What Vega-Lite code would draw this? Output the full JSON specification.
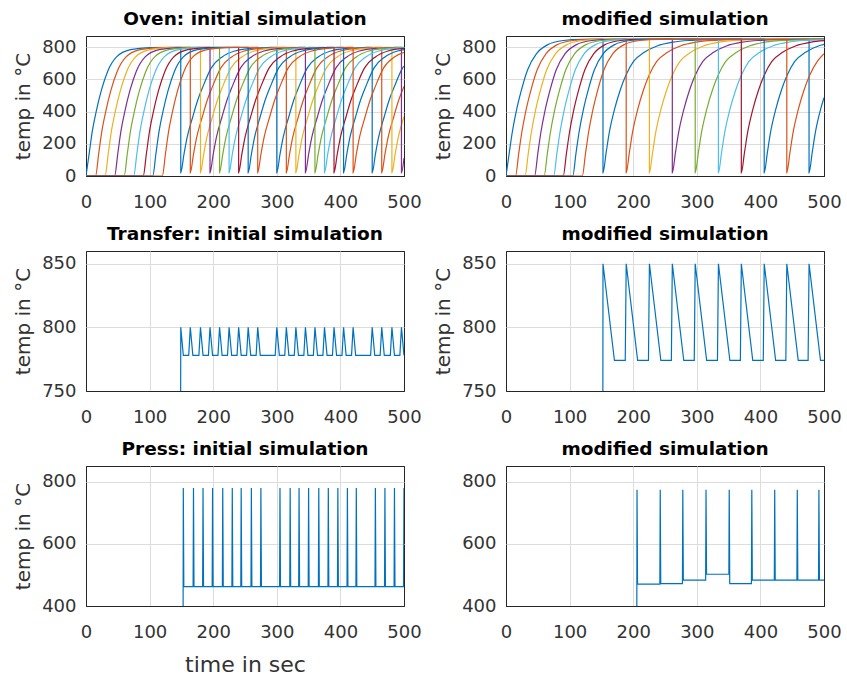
{
"$schema": "https://vega.github.io/schema/vega-lite/v6.json",
"background": "white",
"padding": {"left": 13, "top": 9, "right": 0, "bottom": 0},
"columns": 2,
"spacing": {"row": 75, "column": 102},
"bounds": "flush",
"datasets": {
"oi": [
{"s":1,"t":0,"v":0},{"s":1,"t":5,"v":140},{"s":1,"t":10,"v":280},{"s":1,"t":16,"v":400},{"s":1,"t":24,"v":530},{"s":1,"t":34,"v":650},{"s":1,"t":48,"v":740},{"s":1,"t":70,"v":785},{"s":1,"t":100,"v":798},{"s":1,"t":149,"v":800},{"s":1,"t":149,"v":20},
{"s":1,"t":154,"v":135},{"s":1,"t":159,"v":240},{"s":1,"t":168,"v":370},{"s":1,"t":176,"v":475},{"s":1,"t":184,"v":557},{"s":1,"t":197,"v":672},{"s":1,"t":214,"v":740},{"s":1,"t":234,"v":777},{"s":1,"t":259,"v":793},{"s":1,"t":289,"v":799},{"s":1,"t":300,"v":800},{"s":1,"t":300,"v":20},
{"s":1,"t":305,"v":135},{"s":1,"t":310,"v":240},{"s":1,"t":319,"v":370},{"s":1,"t":327,"v":475},{"s":1,"t":335,"v":557},{"s":1,"t":348,"v":672},{"s":1,"t":365,"v":740},{"s":1,"t":385,"v":777},{"s":1,"t":410,"v":793},{"s":1,"t":440,"v":799},{"s":1,"t":450,"v":800},{"s":1,"t":450,"v":20},
{"s":1,"t":455,"v":135},{"s":1,"t":460,"v":240},{"s":1,"t":469,"v":370},{"s":1,"t":477,"v":475},{"s":1,"t":485,"v":557},{"s":1,"t":498,"v":672},{"s":1,"t":500,"v":683},
{"s":2,"t":0,"v":0},{"s":2,"t":15,"v":0},{"s":2,"t":20,"v":140},{"s":2,"t":25,"v":280},{"s":2,"t":31,"v":400},{"s":2,"t":39,"v":530},{"s":2,"t":49,"v":650},{"s":2,"t":63,"v":740},{"s":2,"t":85,"v":785},{"s":2,"t":115,"v":798},{"s":2,"t":164,"v":800},{"s":2,"t":164,"v":20},
{"s":2,"t":169,"v":135},{"s":2,"t":174,"v":240},{"s":2,"t":183,"v":370},{"s":2,"t":191,"v":475},{"s":2,"t":199,"v":557},{"s":2,"t":212,"v":672},{"s":2,"t":229,"v":740},{"s":2,"t":249,"v":777},{"s":2,"t":274,"v":793},{"s":2,"t":304,"v":799},{"s":2,"t":315,"v":800},{"s":2,"t":315,"v":20},
{"s":2,"t":320,"v":135},{"s":2,"t":325,"v":240},{"s":2,"t":334,"v":370},{"s":2,"t":342,"v":475},{"s":2,"t":350,"v":557},{"s":2,"t":363,"v":672},{"s":2,"t":380,"v":740},{"s":2,"t":400,"v":777},{"s":2,"t":425,"v":793},{"s":2,"t":455,"v":799},{"s":2,"t":465,"v":800},{"s":2,"t":465,"v":20},
{"s":2,"t":470,"v":135},{"s":2,"t":475,"v":240},{"s":2,"t":484,"v":370},{"s":2,"t":492,"v":475},{"s":2,"t":500,"v":557},
{"s":3,"t":0,"v":0},{"s":3,"t":30,"v":0},{"s":3,"t":35,"v":140},{"s":3,"t":40,"v":280},{"s":3,"t":46,"v":400},{"s":3,"t":54,"v":530},{"s":3,"t":64,"v":650},{"s":3,"t":78,"v":740},{"s":3,"t":100,"v":785},{"s":3,"t":130,"v":798},{"s":3,"t":180,"v":800},{"s":3,"t":180,"v":20},
{"s":3,"t":185,"v":135},{"s":3,"t":190,"v":240},{"s":3,"t":199,"v":370},{"s":3,"t":207,"v":475},{"s":3,"t":215,"v":557},{"s":3,"t":228,"v":672},{"s":3,"t":245,"v":740},{"s":3,"t":265,"v":777},{"s":3,"t":290,"v":793},{"s":3,"t":320,"v":799},{"s":3,"t":330,"v":800},{"s":3,"t":330,"v":20},
{"s":3,"t":335,"v":135},{"s":3,"t":340,"v":240},{"s":3,"t":349,"v":370},{"s":3,"t":357,"v":475},{"s":3,"t":365,"v":557},{"s":3,"t":378,"v":672},{"s":3,"t":395,"v":740},{"s":3,"t":415,"v":777},{"s":3,"t":440,"v":793},{"s":3,"t":470,"v":799},{"s":3,"t":481,"v":800},{"s":3,"t":481,"v":20},
{"s":3,"t":486,"v":135},{"s":3,"t":491,"v":240},{"s":3,"t":500,"v":370},
{"s":4,"t":0,"v":0},{"s":4,"t":45,"v":0},{"s":4,"t":50,"v":140},{"s":4,"t":55,"v":280},{"s":4,"t":61,"v":400},{"s":4,"t":69,"v":530},{"s":4,"t":79,"v":650},{"s":4,"t":93,"v":740},{"s":4,"t":115,"v":785},{"s":4,"t":145,"v":798},{"s":4,"t":195,"v":800},{"s":4,"t":195,"v":20},
{"s":4,"t":200,"v":135},{"s":4,"t":205,"v":240},{"s":4,"t":214,"v":370},{"s":4,"t":222,"v":475},{"s":4,"t":230,"v":557},{"s":4,"t":243,"v":672},{"s":4,"t":260,"v":740},{"s":4,"t":280,"v":777},{"s":4,"t":305,"v":793},{"s":4,"t":335,"v":799},{"s":4,"t":345,"v":800},{"s":4,"t":345,"v":20},
{"s":4,"t":350,"v":135},{"s":4,"t":355,"v":240},{"s":4,"t":364,"v":370},{"s":4,"t":372,"v":475},{"s":4,"t":380,"v":557},{"s":4,"t":393,"v":672},{"s":4,"t":410,"v":740},{"s":4,"t":430,"v":777},{"s":4,"t":455,"v":793},{"s":4,"t":485,"v":799},{"s":4,"t":496,"v":800},{"s":4,"t":496,"v":20},
{"s":4,"t":500,"v":112},
{"s":5,"t":0,"v":0},{"s":5,"t":60,"v":0},{"s":5,"t":65,"v":140},{"s":5,"t":70,"v":280},{"s":5,"t":76,"v":400},{"s":5,"t":84,"v":530},{"s":5,"t":94,"v":650},{"s":5,"t":108,"v":740},{"s":5,"t":130,"v":785},{"s":5,"t":160,"v":798},{"s":5,"t":210,"v":800},{"s":5,"t":210,"v":20},
{"s":5,"t":215,"v":135},{"s":5,"t":220,"v":240},{"s":5,"t":229,"v":370},{"s":5,"t":237,"v":475},{"s":5,"t":245,"v":557},{"s":5,"t":258,"v":672},{"s":5,"t":275,"v":740},{"s":5,"t":295,"v":777},{"s":5,"t":320,"v":793},{"s":5,"t":350,"v":799},{"s":5,"t":360,"v":800},{"s":5,"t":360,"v":20},
{"s":5,"t":365,"v":135},{"s":5,"t":370,"v":240},{"s":5,"t":379,"v":370},{"s":5,"t":387,"v":475},{"s":5,"t":395,"v":557},{"s":5,"t":408,"v":672},{"s":5,"t":425,"v":740},{"s":5,"t":445,"v":777},{"s":5,"t":470,"v":793},{"s":5,"t":500,"v":799},
{"s":6,"t":0,"v":0},{"s":6,"t":75,"v":0},{"s":6,"t":80,"v":140},{"s":6,"t":85,"v":280},{"s":6,"t":91,"v":400},{"s":6,"t":99,"v":530},{"s":6,"t":109,"v":650},{"s":6,"t":123,"v":740},{"s":6,"t":145,"v":785},{"s":6,"t":175,"v":798},{"s":6,"t":225,"v":800},{"s":6,"t":225,"v":20},
{"s":6,"t":230,"v":135},{"s":6,"t":235,"v":240},{"s":6,"t":244,"v":370},{"s":6,"t":252,"v":475},{"s":6,"t":260,"v":557},{"s":6,"t":273,"v":672},{"s":6,"t":290,"v":740},{"s":6,"t":310,"v":777},{"s":6,"t":335,"v":793},{"s":6,"t":365,"v":799},{"s":6,"t":375,"v":800},{"s":6,"t":375,"v":20},
{"s":6,"t":380,"v":135},{"s":6,"t":385,"v":240},{"s":6,"t":394,"v":370},{"s":6,"t":402,"v":475},{"s":6,"t":410,"v":557},{"s":6,"t":423,"v":672},{"s":6,"t":440,"v":740},{"s":6,"t":460,"v":777},{"s":6,"t":485,"v":793},{"s":6,"t":500,"v":797},
{"s":7,"t":0,"v":0},{"s":7,"t":90,"v":0},{"s":7,"t":95,"v":140},{"s":7,"t":100,"v":280},{"s":7,"t":106,"v":400},{"s":7,"t":114,"v":530},{"s":7,"t":124,"v":650},{"s":7,"t":138,"v":740},{"s":7,"t":160,"v":785},{"s":7,"t":190,"v":798},{"s":7,"t":240,"v":800},{"s":7,"t":240,"v":20},
{"s":7,"t":245,"v":135},{"s":7,"t":250,"v":240},{"s":7,"t":259,"v":370},{"s":7,"t":267,"v":475},{"s":7,"t":275,"v":557},{"s":7,"t":288,"v":672},{"s":7,"t":305,"v":740},{"s":7,"t":325,"v":777},{"s":7,"t":350,"v":793},{"s":7,"t":380,"v":799},{"s":7,"t":390,"v":800},{"s":7,"t":390,"v":20},
{"s":7,"t":395,"v":135},{"s":7,"t":400,"v":240},{"s":7,"t":409,"v":370},{"s":7,"t":417,"v":475},{"s":7,"t":425,"v":557},{"s":7,"t":438,"v":672},{"s":7,"t":455,"v":740},{"s":7,"t":475,"v":777},{"s":7,"t":500,"v":793},
{"s":8,"t":0,"v":0},{"s":8,"t":105,"v":0},{"s":8,"t":110,"v":140},{"s":8,"t":115,"v":280},{"s":8,"t":121,"v":400},{"s":8,"t":129,"v":530},{"s":8,"t":139,"v":650},{"s":8,"t":153,"v":740},{"s":8,"t":175,"v":785},{"s":8,"t":205,"v":798},{"s":8,"t":255,"v":800},{"s":8,"t":255,"v":20},
{"s":8,"t":260,"v":135},{"s":8,"t":265,"v":240},{"s":8,"t":274,"v":370},{"s":8,"t":282,"v":475},{"s":8,"t":290,"v":557},{"s":8,"t":303,"v":672},{"s":8,"t":320,"v":740},{"s":8,"t":340,"v":777},{"s":8,"t":365,"v":793},{"s":8,"t":395,"v":799},{"s":8,"t":405,"v":800},{"s":8,"t":405,"v":20},
{"s":8,"t":410,"v":135},{"s":8,"t":415,"v":240},{"s":8,"t":424,"v":370},{"s":8,"t":432,"v":475},{"s":8,"t":440,"v":557},{"s":8,"t":453,"v":672},{"s":8,"t":470,"v":740},{"s":8,"t":490,"v":777},{"s":8,"t":500,"v":786},
{"s":9,"t":0,"v":0},{"s":9,"t":120,"v":0},{"s":9,"t":125,"v":140},{"s":9,"t":130,"v":280},{"s":9,"t":136,"v":400},{"s":9,"t":144,"v":530},{"s":9,"t":154,"v":650},{"s":9,"t":168,"v":740},{"s":9,"t":190,"v":785},{"s":9,"t":220,"v":798},{"s":9,"t":270,"v":800},{"s":9,"t":270,"v":20},
{"s":9,"t":275,"v":135},{"s":9,"t":280,"v":240},{"s":9,"t":289,"v":370},{"s":9,"t":297,"v":475},{"s":9,"t":305,"v":557},{"s":9,"t":318,"v":672},{"s":9,"t":335,"v":740},{"s":9,"t":355,"v":777},{"s":9,"t":380,"v":793},{"s":9,"t":410,"v":799},{"s":9,"t":420,"v":800},{"s":9,"t":420,"v":20},
{"s":9,"t":425,"v":135},{"s":9,"t":430,"v":240},{"s":9,"t":439,"v":370},{"s":9,"t":447,"v":475},{"s":9,"t":455,"v":557},{"s":9,"t":468,"v":672},{"s":9,"t":485,"v":740},{"s":9,"t":500,"v":768}
],
"om": [
{"s":1,"t":0,"v":0},{"s":1,"t":5,"v":140},{"s":1,"t":10,"v":275},{"s":1,"t":16,"v":400},{"s":1,"t":24,"v":530},{"s":1,"t":34,"v":660},{"s":1,"t":48,"v":760},{"s":1,"t":65,"v":815},{"s":1,"t":90,"v":842},{"s":1,"t":120,"v":849},{"s":1,"t":152.5,"v":850},{"s":1,"t":152.5,"v":20},
{"s":1,"t":157.5,"v":147},{"s":1,"t":162.5,"v":272},{"s":1,"t":170.5,"v":412},{"s":1,"t":179.5,"v":533},{"s":1,"t":188.5,"v":626},{"s":1,"t":200.5,"v":712},{"s":1,"t":217.5,"v":769},{"s":1,"t":237.5,"v":808},{"s":1,"t":262.5,"v":832},{"s":1,"t":292.5,"v":843},{"s":1,"t":340,"v":849},{"s":1,"t":476.5,"v":850},{"s":1,"t":476.5,"v":20},
{"s":1,"t":481.5,"v":147},{"s":1,"t":486.5,"v":272},{"s":1,"t":494.5,"v":412},{"s":1,"t":500,"v":486},
{"s":2,"t":0,"v":0},{"s":2,"t":15,"v":0},{"s":2,"t":20,"v":140},{"s":2,"t":25,"v":275},{"s":2,"t":31,"v":400},{"s":2,"t":39,"v":530},{"s":2,"t":49,"v":660},{"s":2,"t":63,"v":760},{"s":2,"t":80,"v":815},{"s":2,"t":105,"v":842},{"s":2,"t":135,"v":849},{"s":2,"t":189,"v":850},{"s":2,"t":189,"v":20},
{"s":2,"t":194,"v":147},{"s":2,"t":199,"v":272},{"s":2,"t":207,"v":412},{"s":2,"t":216,"v":533},{"s":2,"t":225,"v":626},{"s":2,"t":237,"v":712},{"s":2,"t":254,"v":769},{"s":2,"t":274,"v":808},{"s":2,"t":299,"v":832},{"s":2,"t":329,"v":843},{"s":2,"t":380,"v":849},{"s":2,"t":500,"v":850},
{"s":3,"t":0,"v":0},{"s":3,"t":30,"v":0},{"s":3,"t":35,"v":140},{"s":3,"t":40,"v":275},{"s":3,"t":46,"v":400},{"s":3,"t":54,"v":530},{"s":3,"t":64,"v":660},{"s":3,"t":78,"v":760},{"s":3,"t":95,"v":815},{"s":3,"t":120,"v":842},{"s":3,"t":150,"v":849},{"s":3,"t":225.5,"v":850},{"s":3,"t":225.5,"v":20},
{"s":3,"t":230.5,"v":147},{"s":3,"t":235.5,"v":272},{"s":3,"t":243.5,"v":412},{"s":3,"t":252.5,"v":533},{"s":3,"t":261.5,"v":626},{"s":3,"t":273.5,"v":712},{"s":3,"t":290.5,"v":769},{"s":3,"t":310.5,"v":808},{"s":3,"t":335.5,"v":832},{"s":3,"t":365.5,"v":843},{"s":3,"t":420,"v":849},{"s":3,"t":500,"v":850},
{"s":4,"t":0,"v":0},{"s":4,"t":45,"v":0},{"s":4,"t":50,"v":140},{"s":4,"t":55,"v":275},{"s":4,"t":61,"v":400},{"s":4,"t":69,"v":530},{"s":4,"t":79,"v":660},{"s":4,"t":93,"v":760},{"s":4,"t":110,"v":815},{"s":4,"t":135,"v":842},{"s":4,"t":165,"v":849},{"s":4,"t":261.5,"v":850},{"s":4,"t":261.5,"v":20},
{"s":4,"t":266.5,"v":147},{"s":4,"t":271.5,"v":272},{"s":4,"t":279.5,"v":412},{"s":4,"t":288.5,"v":533},{"s":4,"t":297.5,"v":626},{"s":4,"t":309.5,"v":712},{"s":4,"t":326.5,"v":769},{"s":4,"t":346.5,"v":808},{"s":4,"t":371.5,"v":832},{"s":4,"t":401.5,"v":843},{"s":4,"t":450,"v":849},{"s":4,"t":500,"v":850},
{"s":5,"t":0,"v":0},{"s":5,"t":60,"v":0},{"s":5,"t":65,"v":140},{"s":5,"t":70,"v":275},{"s":5,"t":76,"v":400},{"s":5,"t":84,"v":530},{"s":5,"t":94,"v":660},{"s":5,"t":108,"v":760},{"s":5,"t":125,"v":815},{"s":5,"t":150,"v":842},{"s":5,"t":180,"v":849},{"s":5,"t":297.5,"v":850},{"s":5,"t":297.5,"v":20},
{"s":5,"t":302.5,"v":147},{"s":5,"t":307.5,"v":272},{"s":5,"t":315.5,"v":412},{"s":5,"t":324.5,"v":533},{"s":5,"t":333.5,"v":626},{"s":5,"t":345.5,"v":712},{"s":5,"t":362.5,"v":769},{"s":5,"t":382.5,"v":808},{"s":5,"t":407.5,"v":832},{"s":5,"t":437.5,"v":843},{"s":5,"t":500,"v":849},
{"s":6,"t":0,"v":0},{"s":6,"t":75,"v":0},{"s":6,"t":80,"v":140},{"s":6,"t":85,"v":275},{"s":6,"t":91,"v":400},{"s":6,"t":99,"v":530},{"s":6,"t":109,"v":660},{"s":6,"t":123,"v":760},{"s":6,"t":140,"v":815},{"s":6,"t":165,"v":842},{"s":6,"t":195,"v":849},{"s":6,"t":334,"v":850},{"s":6,"t":334,"v":20},
{"s":6,"t":339,"v":147},{"s":6,"t":344,"v":272},{"s":6,"t":352,"v":412},{"s":6,"t":361,"v":533},{"s":6,"t":370,"v":626},{"s":6,"t":382,"v":712},{"s":6,"t":399,"v":769},{"s":6,"t":419,"v":808},{"s":6,"t":444,"v":832},{"s":6,"t":474,"v":843},{"s":6,"t":500,"v":847},
{"s":7,"t":0,"v":0},{"s":7,"t":90,"v":0},{"s":7,"t":95,"v":140},{"s":7,"t":100,"v":275},{"s":7,"t":106,"v":400},{"s":7,"t":114,"v":530},{"s":7,"t":124,"v":660},{"s":7,"t":138,"v":760},{"s":7,"t":155,"v":815},{"s":7,"t":180,"v":842},{"s":7,"t":210,"v":849},{"s":7,"t":370,"v":850},{"s":7,"t":370,"v":20},
{"s":7,"t":375,"v":147},{"s":7,"t":380,"v":272},{"s":7,"t":388,"v":412},{"s":7,"t":397,"v":533},{"s":7,"t":406,"v":626},{"s":7,"t":418,"v":712},{"s":7,"t":435,"v":769},{"s":7,"t":455,"v":808},{"s":7,"t":480,"v":832},{"s":7,"t":500,"v":841},
{"s":8,"t":0,"v":0},{"s":8,"t":105,"v":0},{"s":8,"t":110,"v":140},{"s":8,"t":115,"v":275},{"s":8,"t":121,"v":400},{"s":8,"t":129,"v":530},{"s":8,"t":139,"v":660},{"s":8,"t":153,"v":760},{"s":8,"t":170,"v":815},{"s":8,"t":195,"v":842},{"s":8,"t":225,"v":849},{"s":8,"t":406,"v":850},{"s":8,"t":406,"v":20},
{"s":8,"t":411,"v":147},{"s":8,"t":416,"v":272},{"s":8,"t":424,"v":412},{"s":8,"t":433,"v":533},{"s":8,"t":442,"v":626},{"s":8,"t":454,"v":712},{"s":8,"t":471,"v":769},{"s":8,"t":491,"v":808},{"s":8,"t":500,"v":818},
{"s":9,"t":0,"v":0},{"s":9,"t":120,"v":0},{"s":9,"t":125,"v":140},{"s":9,"t":130,"v":275},{"s":9,"t":136,"v":400},{"s":9,"t":144,"v":530},{"s":9,"t":154,"v":660},{"s":9,"t":168,"v":760},{"s":9,"t":185,"v":815},{"s":9,"t":210,"v":842},{"s":9,"t":240,"v":849},{"s":9,"t":441.5,"v":850},{"s":9,"t":441.5,"v":20},
{"s":9,"t":446.5,"v":147},{"s":9,"t":451.5,"v":272},{"s":9,"t":459.5,"v":412},{"s":9,"t":468.5,"v":533},{"s":9,"t":477.5,"v":626},{"s":9,"t":489.5,"v":712},{"s":9,"t":500,"v":760}
],
"ti": [
{"t":0,"v":20},{"t":146.5,"v":20},{"t":149,"v":800},{"t":153,"v":778},
{"t":161.5,"v":778},{"t":164,"v":800},{"t":168,"v":778},
{"t":177.5,"v":778},{"t":180,"v":800},{"t":184,"v":778},
{"t":192.5,"v":778},{"t":195,"v":800},{"t":199,"v":778},
{"t":207.5,"v":778},{"t":210,"v":800},{"t":214,"v":778},
{"t":222.5,"v":778},{"t":225,"v":800},{"t":229,"v":778},
{"t":237.5,"v":778},{"t":240,"v":800},{"t":244,"v":778},
{"t":252.5,"v":778},{"t":255,"v":800},{"t":259,"v":778},
{"t":267.5,"v":778},{"t":270,"v":800},{"t":274,"v":778},
{"t":297.5,"v":778},{"t":300,"v":800},{"t":304,"v":778},
{"t":312.5,"v":778},{"t":315,"v":800},{"t":319,"v":778},
{"t":327.5,"v":778},{"t":330,"v":800},{"t":334,"v":778},
{"t":342.5,"v":778},{"t":345,"v":800},{"t":349,"v":778},
{"t":357.5,"v":778},{"t":360,"v":800},{"t":364,"v":778},
{"t":372.5,"v":778},{"t":375,"v":800},{"t":379,"v":778},
{"t":387.5,"v":778},{"t":390,"v":800},{"t":394,"v":778},
{"t":402.5,"v":778},{"t":405,"v":800},{"t":409,"v":778},
{"t":417.5,"v":778},{"t":420,"v":800},{"t":424,"v":778},
{"t":447.5,"v":778},{"t":450,"v":800},{"t":454,"v":778},
{"t":462.5,"v":778},{"t":465,"v":800},{"t":469,"v":778},
{"t":478.5,"v":778},{"t":481,"v":800},{"t":485,"v":778},
{"t":493.5,"v":778},{"t":496,"v":800},{"t":500,"v":778}
],
"tm": [
{"t":0,"v":20},{"t":151,"v":20},{"t":152.5,"v":850},{"t":170.5,"v":774},
{"t":187.5,"v":774},{"t":189,"v":850},{"t":207,"v":774},
{"t":224,"v":774},{"t":225.5,"v":850},{"t":243.5,"v":774},
{"t":260,"v":774},{"t":261.5,"v":850},{"t":279.5,"v":774},
{"t":296,"v":774},{"t":297.5,"v":850},{"t":315.5,"v":774},
{"t":332.5,"v":774},{"t":334,"v":850},{"t":352,"v":774},
{"t":368.5,"v":774},{"t":370,"v":850},{"t":388,"v":774},
{"t":404.5,"v":774},{"t":406,"v":850},{"t":424,"v":774},
{"t":440,"v":774},{"t":441.5,"v":850},{"t":459.5,"v":774},
{"t":475,"v":774},{"t":476.5,"v":850},{"t":494.5,"v":774},{"t":500,"v":774}
],
"pi": [
{"t":0,"v":20},{"t":152.4,"v":20},{"t":153,"v":779},{"t":153.8,"v":462},
{"t":168.4,"v":462},{"t":169,"v":779},{"t":169.8,"v":462},
{"t":183.4,"v":462},{"t":184,"v":779},{"t":184.8,"v":462},
{"t":198.4,"v":462},{"t":199,"v":779},{"t":199.8,"v":462},
{"t":214.4,"v":462},{"t":215,"v":779},{"t":215.8,"v":462},
{"t":229.4,"v":462},{"t":230,"v":779},{"t":230.8,"v":462},
{"t":243.4,"v":462},{"t":244,"v":779},{"t":244.8,"v":462},
{"t":259.4,"v":462},{"t":260,"v":779},{"t":260.8,"v":462},
{"t":274.4,"v":462},{"t":275,"v":779},{"t":275.8,"v":462},
{"t":304.4,"v":462},{"t":305,"v":779},{"t":305.8,"v":462},
{"t":320.4,"v":462},{"t":321,"v":779},{"t":321.8,"v":462},
{"t":334.4,"v":462},{"t":335,"v":779},{"t":335.8,"v":462},
{"t":349.4,"v":462},{"t":350,"v":779},{"t":350.8,"v":462},
{"t":365.4,"v":462},{"t":366,"v":779},{"t":366.8,"v":462},
{"t":380.4,"v":462},{"t":381,"v":779},{"t":381.8,"v":462},
{"t":395.4,"v":462},{"t":396,"v":779},{"t":396.8,"v":462},
{"t":410.4,"v":462},{"t":411,"v":779},{"t":411.8,"v":462},
{"t":424.4,"v":462},{"t":425,"v":779},{"t":425.8,"v":462},
{"t":454.4,"v":462},{"t":455,"v":779},{"t":455.8,"v":462},
{"t":469.4,"v":462},{"t":470,"v":779},{"t":470.8,"v":462},
{"t":484.4,"v":462},{"t":485,"v":779},{"t":485.8,"v":462},
{"t":499.3,"v":462},{"t":500,"v":779}
],
"pm": [
{"t":0,"v":20},{"t":205.4,"v":20},{"t":206,"v":774},{"t":206.8,"v":470},
{"t":241.9,"v":470},{"t":242.5,"v":774},{"t":243.3,"v":472},
{"t":277.4,"v":472},{"t":278,"v":774},{"t":278.8,"v":483},
{"t":313.9,"v":483},{"t":314.5,"v":774},{"t":315.3,"v":502},
{"t":350.4,"v":502},{"t":351,"v":774},{"t":351.8,"v":472},
{"t":385.9,"v":472},{"t":386.5,"v":774},{"t":387.3,"v":483},
{"t":421.9,"v":483},{"t":422.5,"v":774},{"t":423.3,"v":483},
{"t":457.4,"v":483},{"t":458,"v":774},{"t":458.8,"v":483},
{"t":491.4,"v":483},{"t":492,"v":774},{"t":492.8,"v":483},{"t":500,"v":483}
]
},
"concat": [
{
"width": 318, "height": 140,
"title": "Oven: initial simulation",
"data": {"name": "oi"},
"mark": {"type": "line", "interpolate": "monotone", "clip": true, "strokeWidth": 1.2},
"encoding": {
"x": {"field": "t", "type": "quantitative", "scale": {"domain": [0, 500], "nice": false, "zero": false}, "axis": {"values": [0, 100, 200, 300, 400, 500], "title": null}},
"y": {"field": "v", "type": "quantitative", "scale": {"domain": [0, 870], "nice": false, "zero": false}, "axis": {"values": [0, 200, 400, 600, 800], "title": "temp in °C", "gridColor": {"condition": {"test": "datum.value === 0", "value": "#262626"}, "value": "#dcdcdc"}}},
"color": {"field": "s", "type": "nominal", "scale": {"domain": [1, 2, 3, 4, 5, 6, 7, 8, 9], "range": ["#0072BD", "#D95319", "#EDB120", "#7E2F8E", "#77AC30", "#4DBEEE", "#A2142F", "#0072BD", "#D95319"]}, "legend": null},
"order": {"value": null}
}
},
{
"width": 318, "height": 140,
"title": "modified simulation",
"data": {"name": "om"},
"mark": {"type": "line", "interpolate": "monotone", "clip": true, "strokeWidth": 1.2},
"encoding": {
"x": {"field": "t", "type": "quantitative", "scale": {"domain": [0, 500], "nice": false, "zero": false}, "axis": {"values": [0, 100, 200, 300, 400, 500], "title": null}},
"y": {"field": "v", "type": "quantitative", "scale": {"domain": [0, 870], "nice": false, "zero": false}, "axis": {"values": [0, 200, 400, 600, 800], "title": "temp in °C", "gridColor": {"condition": {"test": "datum.value === 0", "value": "#262626"}, "value": "#dcdcdc"}}},
"color": {"field": "s", "type": "nominal", "scale": {"domain": [1, 2, 3, 4, 5, 6, 7, 8, 9], "range": ["#0072BD", "#D95319", "#EDB120", "#7E2F8E", "#77AC30", "#4DBEEE", "#A2142F", "#0072BD", "#D95319"]}, "legend": null},
"order": {"value": null}
}
},
{
"width": 318, "height": 140,
"title": "Transfer: initial simulation",
"data": {"name": "ti"},
"mark": {"type": "line", "clip": true, "strokeWidth": 1.2, "color": "#0072BD"},
"encoding": {
"x": {"field": "t", "type": "quantitative", "scale": {"domain": [0, 500], "nice": false, "zero": false}, "axis": {"values": [0, 100, 200, 300, 400, 500], "title": null}},
"y": {"field": "v", "type": "quantitative", "scale": {"domain": [750, 860], "nice": false, "zero": false}, "axis": {"values": [750, 800, 850], "title": "temp in °C", "gridColor": {"condition": {"test": "datum.value === 750", "value": "#262626"}, "value": "#dcdcdc"}}},
"order": {"value": null}
}
},
{
"width": 318, "height": 140,
"title": "modified simulation",
"data": {"name": "tm"},
"mark": {"type": "line", "clip": true, "strokeWidth": 1.2, "color": "#0072BD"},
"encoding": {
"x": {"field": "t", "type": "quantitative", "scale": {"domain": [0, 500], "nice": false, "zero": false}, "axis": {"values": [0, 100, 200, 300, 400, 500], "title": null}},
"y": {"field": "v", "type": "quantitative", "scale": {"domain": [750, 860], "nice": false, "zero": false}, "axis": {"values": [750, 800, 850], "title": "temp in °C", "gridColor": {"condition": {"test": "datum.value === 750", "value": "#262626"}, "value": "#dcdcdc"}}},
"order": {"value": null}
}
},
{
"width": 318, "height": 140,
"title": "Press: initial simulation",
"data": {"name": "pi"},
"mark": {"type": "line", "clip": true, "strokeWidth": 1.2, "color": "#0072BD"},
"encoding": {
"x": {"field": "t", "type": "quantitative", "scale": {"domain": [0, 500], "nice": false, "zero": false}, "axis": {"values": [0, 100, 200, 300, 400, 500], "title": "time in sec", "titleFontSize": 22}},
"y": {"field": "v", "type": "quantitative", "scale": {"domain": [400, 850], "nice": false, "zero": false}, "axis": {"values": [400, 600, 800], "title": "temp in °C", "gridColor": {"condition": {"test": "datum.value === 400", "value": "#262626"}, "value": "#dcdcdc"}}},
"order": {"value": null}
}
},
{
"width": 318, "height": 140,
"title": "modified simulation",
"data": {"name": "pm"},
"mark": {"type": "line", "clip": true, "strokeWidth": 1.2, "color": "#0072BD"},
"encoding": {
"x": {"field": "t", "type": "quantitative", "scale": {"domain": [0, 500], "nice": false, "zero": false}, "axis": {"values": [0, 100, 200, 300, 400, 500], "title": null}},
"y": {"field": "v", "type": "quantitative", "scale": {"domain": [400, 850], "nice": false, "zero": false}, "axis": {"values": [400, 600, 800], "title": null, "gridColor": {"condition": {"test": "datum.value === 400", "value": "#262626"}, "value": "#dcdcdc"}}},
"order": {"value": null}
}
}
],
"config": {
"font": "DejaVu Sans",
"view": {"stroke": "#262626", "strokeWidth": 1},
"axis": {"grid": true, "gridWidth": 1, "domain": false, "ticks": false, "labelFlush": false, "labelFont": "DejaVu Sans", "labelFontSize": 18, "labelColor": "#333333", "titleFont": "DejaVu Sans", "titleFontSize": 20, "titleFontWeight": "normal", "titleColor": "#333333"},
"axisX": {"labelPadding": 17, "titlePadding": 13, "gridColor": {"condition": {"test": "datum.value === 0 || datum.value === 500", "value": "#262626"}, "value": "#dcdcdc"}},
"axisY": {"labelPadding": 10, "titlePadding": 8},
"title": {"font": "DejaVu Sans", "fontSize": 18.5, "fontWeight": "bold", "color": "#000000", "baseline": "alphabetic", "offset": 8}
}
}
